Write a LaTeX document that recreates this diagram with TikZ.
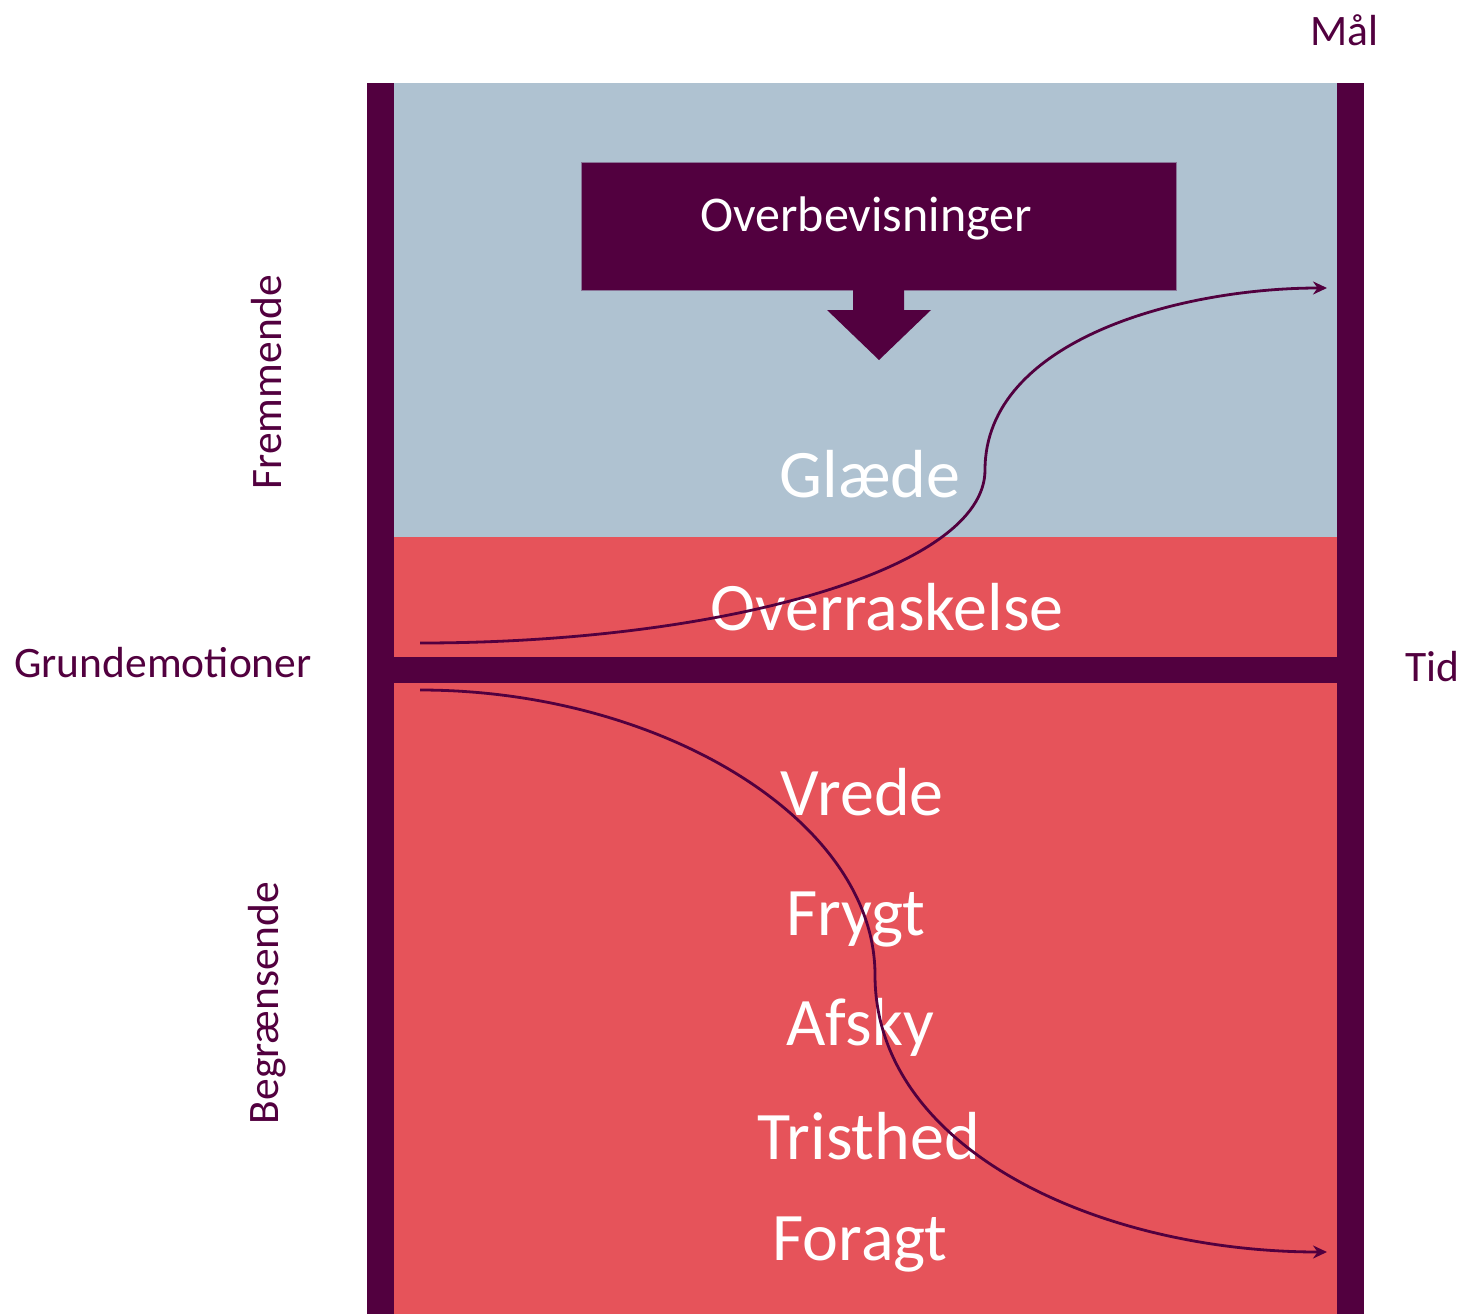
\documentclass[tikz,border=0pt]{standalone}
\usepackage{fontspec}
\setmainfont{Carlito}
\usetikzlibrary{arrows.meta, positioning}
\definecolor{plum}{RGB}{82, 0, 63}
\definecolor{skyblue}{RGB}{175, 194, 209}
\definecolor{coral}{RGB}{230, 83, 90}
\begin{document}
\begin{tikzpicture}[x=1pt, y=-1pt,
    axislabel/.style={text=plum, font=\fontsize{43.5}{50}\selectfont},
    emotion/.style={text=white, font=\fontsize{68}{78}\selectfont},
    flow/.style={plum, line width=2.8pt, -{Stealth[length=14pt, width=13pt]}}]
        \useasboundingbox (0, 0) rectangle (1466, 1314);
        \fill[white] (0, 0) rectangle (1466, 1314);

        % Regions
        \fill[skyblue] (394, 83) rectangle (1337, 537);
        \fill[coral] (394, 537) rectangle (1337, 657);
        \fill[coral] (394, 683) rectangle (1337, 1314);

        % Bars
        \fill[plum] (367, 83) rectangle (394, 1314);
        \fill[plum] (1337, 83) rectangle (1364, 1314);
        \fill[plum] (394, 657) rectangle (1337, 683);

        % Overbevisninger box with block arrow
        \node[fill=plum, draw=skyblue!60!plum, minimum width=595pt, minimum height=128pt,
              inner sep=0pt, anchor=north west] (beliefs) at (581, 162) {};
        \node[text=white, font=\fontsize{50}{58}\selectfont] (beliefstext) at (866, 218) {Overbevisninger};
        \fill[plum] (853, 290) -- (853, 310) -- (827, 310) -- (879, 360) -- (931, 310) -- (904, 310) -- (904, 290) -- cycle;

        % Emotions
        \node[emotion] (glaede) at (870, 474) {Glæde};
        \node[emotion] (overrask) at (887, 607) {Overraskelse};
        \node[emotion] (vrede) at (862, 792) {Vrede};
        \node[emotion] (frygt) at (856, 920) {Frygt};
        \node[emotion] (afsky) at (860, 1027) {Afsky};
        \node[emotion] (tristhed) at (869, 1136) {Tristhed};
        \node[emotion] (foragt) at (860, 1245) {Foragt};

        % Axis labels
        \node[axislabel] (maal) at (1344, 30) {Mål};
        \node[axislabel] (tid) at (1432, 667) {Tid};
        \node[axislabel] (grund) at (163, 663) {Grundemotioner};
        \node[axislabel, rotate=90] (fremmende) at (267, 382) {Fremmende};
        \node[axislabel, rotate=90] (begraens) at (267, 1003) {Begrænsende};

        % Curves
        \coordinate (upstart) at (420, 643);
        \coordinate (upend) at (1327, 288);
        \coordinate (downstart) at (420, 690);
        \coordinate (downend) at (1327, 1252);
        \draw[flow] (upstart) .. controls (720, 643) and (985, 570) .. (985, 470)
            .. controls (985, 340) and (1180, 288) .. (upend);
        \draw[flow] (downstart) .. controls (660, 690) and (875, 820) .. (875, 975)
            .. controls (875, 1150) and (1100, 1252) .. (downend);
    \end{tikzpicture}
\end{document}
